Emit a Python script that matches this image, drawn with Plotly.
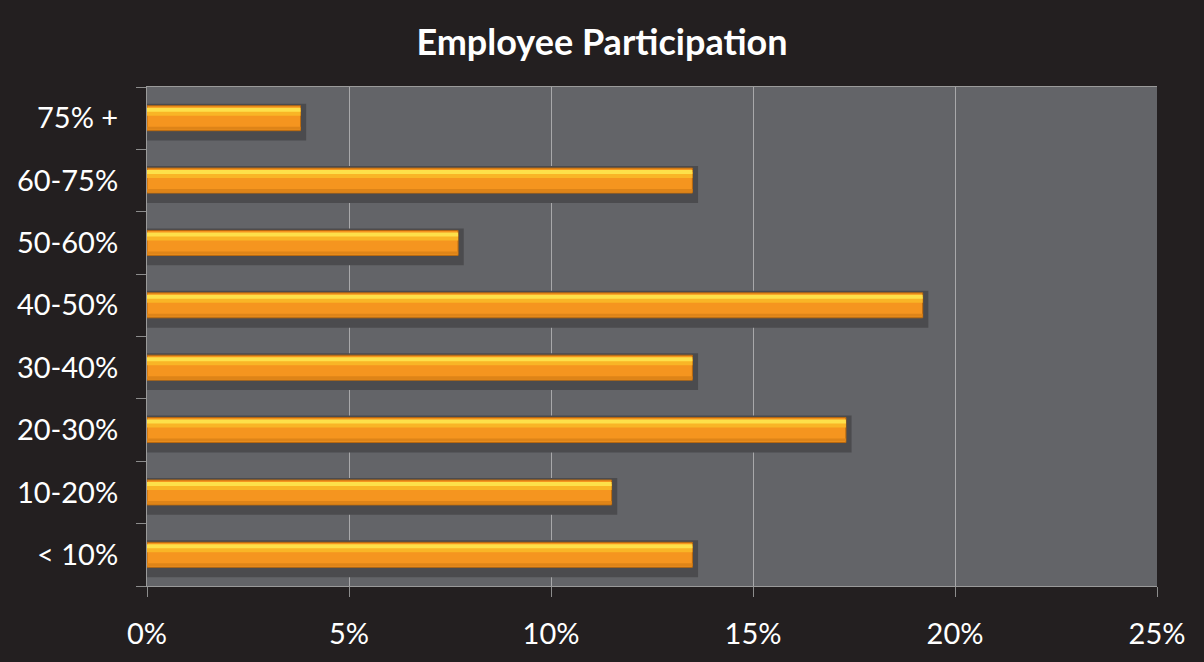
import plotly.graph_objects as go

# Participation bands (bottom to top) and share of employees in each, in percent
categories = ["< 10%", "10-20%", "20-30%", "30-40%", "40-50%", "50-60%", "60-75%", "75% +"]
shares = [13.5, 11.5, 17.3, 13.5, 19.2, 7.7, 13.5, 3.8]
x_ticks = [0, 5, 10, 15, 20, 25]
x_tick_labels = ["0%", "5%", "10%", "15%", "20%", "25%"]

BG = "#231F20"
PLOT_BG = "#636468"
FONT = "Lato, 'Open Sans', sans-serif"

BAR_W = 0.40          # bar thickness in category units
PX = 1 / 62.7         # one pixel in category units
SHADOW_DX = 0.14      # shadow extends to the right (in %)

fig = go.Figure()

# soft drop shadow behind each bar
fig.add_trace(go.Bar(
    y=categories, x=[v + SHADOW_DX for v in shares], orientation="h",
    offset=-BAR_W / 2 - 10 * PX, width=BAR_W + 12 * PX,
    marker=dict(color="#4B4B4E", line=dict(width=0)),
    hoverinfo="skip", showlegend=False,
))
# main orange body
fig.add_trace(go.Bar(
    y=categories, x=shares, orientation="h",
    offset=-BAR_W / 2, width=BAR_W,
    marker=dict(color="#F5951F", line=dict(color="#B8690F", width=1)),
    name="Share", showlegend=False,
))
# darker lower rim
fig.add_trace(go.Bar(
    y=categories, x=shares, orientation="h",
    offset=-BAR_W / 2 + 1 * PX, width=3 * PX,
    marker=dict(color="#DE8418", line=dict(width=0)),
    hoverinfo="skip", showlegend=False,
))
# golden upper band
fig.add_trace(go.Bar(
    y=categories, x=shares, orientation="h",
    offset=BAR_W / 2 - 10 * PX, width=6 * PX,
    marker=dict(color="#F9B526", line=dict(width=0)),
    hoverinfo="skip", showlegend=False,
))
# bright yellow highlight along the top edge
fig.add_trace(go.Bar(
    y=categories, x=shares, orientation="h",
    offset=BAR_W / 2 - 6 * PX, width=4 * PX,
    marker=dict(color="#FDE04A", line=dict(width=0)),
    hoverinfo="skip", showlegend=False,
))

fig.update_layout(
    width=1204, height=662,
    paper_bgcolor=BG, plot_bgcolor=PLOT_BG,
    margin=dict(l=147, r=47, t=87, b=74),
    barmode="overlay",
    title=dict(
        text="<b>Employee Participation</b>",
        x=0.5, xanchor="center", y=1 - 42 / 662, yanchor="middle",
        font=dict(family=FONT, size=36, color="white"),
    ),
    font=dict(family=FONT, color="white", size=29),
    xaxis=dict(
        range=[0, 25], tickvals=x_ticks, ticktext=x_tick_labels,
        showgrid=True, gridcolor="#A8A8AA", gridwidth=1,
        ticks="outside", ticklen=10, tickcolor="#8C8C8C",
        showline=True, linecolor="#9A9A9A", linewidth=1, mirror=True,
        zeroline=False, tickfont=dict(size=29, color="white"),
        ticklabelstandoff=12,
        fixedrange=True,
    ),
    yaxis=dict(
        categoryorder="array", categoryarray=categories,
        range=[-0.5, len(categories) - 0.5],
        tickson="boundaries", ticks="outside", ticklen=10, tickcolor="#8C8C8C",
        showgrid=False, showline=True, linecolor="#9A9A9A", linewidth=1,
        ticklabelstandoff=22, tickfont=dict(size=29, color="white"),
        fixedrange=True,
    ),
)

fig.write_html("out.html")
